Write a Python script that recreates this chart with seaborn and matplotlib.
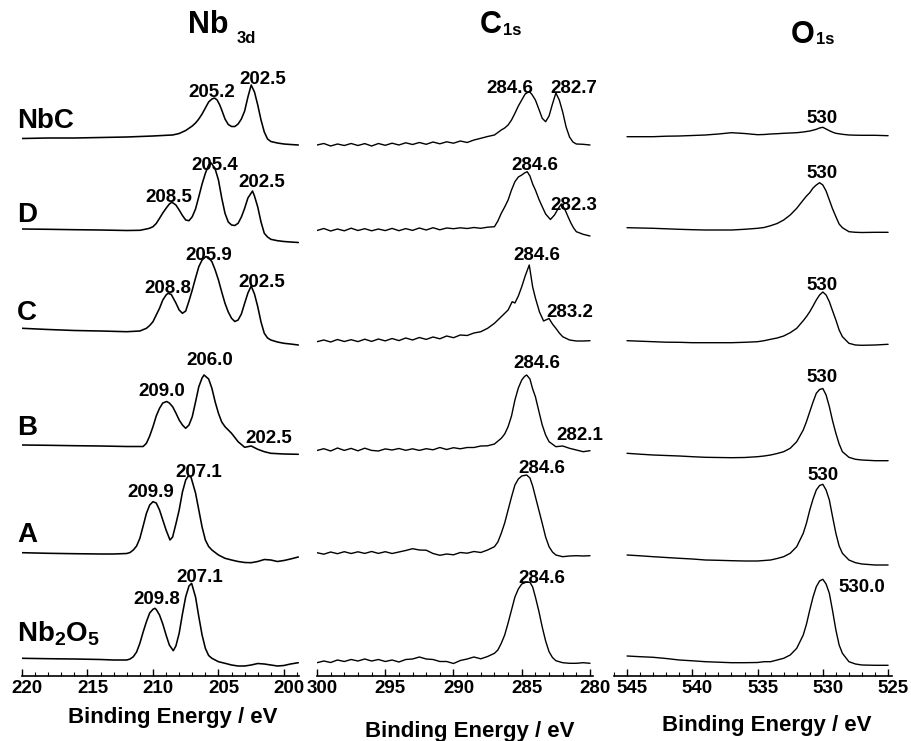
import numpy as np
import pandas as pd
import matplotlib
matplotlib.use("Agg")
import matplotlib.pyplot as plt
import matplotlib.transforms as mtrans
from matplotlib.ticker import MultipleLocator
import seaborn as sns

# ---------------- data ----------------
samples = ["NbC", "D", "C", "B", "A", "Nb2O5"]

# ---- Nb 3d panel (binding energy / eV, intensity in arbitrary units) ----
nb_E_NbC = [220, 218, 216, 214, 212, 211, 210, 209, 208.5, 208, 207.5, 207, 206.75, 206.5,
            206.25, 206, 205.75, 205.5, 205.3, 205.1, 204.9, 204.75, 204.5, 204.25, 204,
            203.75, 203.5, 203.25, 203, 202.75, 202.5, 202.25, 202, 201.75, 201.5, 201.25,
            201, 200.5, 200, 199.5, 198.9]
nb_I_NbC = [1.5, 2, 2, 2.5, 3, 3.5, 4, 4.7, 5, 6.5, 9.5, 14, 17, 21, 26, 32, 38, 41, 42, 40,
            35, 30, 21, 15.5, 13.5, 13.5, 16, 21, 29, 43, 55, 48, 35, 20, 8, 1, -1.5, -3, -4,
            -4.5, -5]
nb_E_D = [220, 218, 216, 214, 212, 211, 210.5, 210.25, 210, 209.75, 209.5, 209.25, 209,
          208.75, 208.55, 208.25, 208, 207.75, 207.5, 207.25, 207, 206.75, 206.5, 206.25,
          206, 205.75, 205.55, 205.25, 205, 204.75, 204.5, 204.25, 204, 203.75, 203.5,
          203.25, 203, 202.75, 202.4, 202.25, 202, 201.75, 201.5, 201.25, 201, 200.5, 200,
          199.5, 198.9]
nb_I_D = [0, -0.3, -0.7, -1, -1.5, -1.3, 0, 0.8, 2.3, 5.5, 10.7, 16, 20.7, 25, 26.8, 24, 19,
          13.5, 9, 8.3, 12.3, 20, 32.3, 45, 55.7, 64, 66, 60, 49, 31, 15.7, 7, 4, 3.5, 5.7,
          12, 20.7, 31, 38, 33, 22, 7, -4.3, -8, -10.3, -11.7, -12.5, -13, -13.5]
nb_E_C = [220, 218, 216, 214, 212, 211, 210.5, 210.25, 210, 209.75, 209.5, 209.25, 209,
          208.85, 208.6, 208.25, 208, 207.75, 207.5, 207.25, 207, 206.75, 206.5, 206.25,
          205.95, 205.75, 205.5, 205.25, 205, 204.75, 204.5, 204.25, 204, 203.75, 203.5,
          203.25, 203, 202.75, 202.5, 202.25, 202, 201.75, 201.5, 201.25, 201, 200.5, 200,
          199.5, 198.9]
nb_I_C = [7.7, 6.5, 5.5, 5, 4.3, 5, 7.7, 10.5, 14.3, 21, 27.7, 36, 41, 42.7, 41.5, 33, 26,
          22.7, 25, 35, 46, 58, 69.3, 76, 79.5, 78.5, 74.3, 66, 56, 44, 32.7, 24, 17.7, 14.5,
          16, 22, 32.7, 43, 50, 42, 29.3, 14, 2.7, -2, -4, -6, -7.3, -8, -9]
nb_E_B = [220, 218, 216, 214, 212, 211, 210.75, 210.5, 210.25, 210, 209.75, 209.5, 209.25,
          208.95, 208.75, 208.5, 208.25, 208, 207.75, 207.5, 207.25, 207, 206.75, 206.5,
          206.25, 206.1, 205.75, 205.5, 205.25, 205, 204.75, 204.5, 204, 203.5, 203, 202.5,
          202, 201.5, 201, 200, 198.9]
nb_I_B = [4, 3.7, 3.3, 3, 2.5, 2.5, 2.5, 5.7, 13, 22.3, 33, 40.7, 46, 47.5, 46, 42.3, 36, 29,
          24, 20.7, 24, 32.3, 47, 62.3, 71, 74, 70, 60.7, 47, 35.7, 27, 22.3, 15.7, 7.3, 1.7,
          3, -0.3, -2.7, -4.3, -5, -5.3]
nb_E_A = [220, 218, 216, 214, 213, 212, 211.75, 211.5, 211.25, 211, 210.75, 210.5, 210.25,
          210, 209.75, 209.5, 209.25, 209, 208.7, 208.5, 208.25, 208, 207.75, 207.5, 207.3,
          207.1, 206.75, 206.5, 206.25, 206, 205.75, 205.5, 205, 204.5, 204, 203.5, 203,
          202.5, 202, 201.5, 201, 200.5, 200, 199.5, 198.9]
nb_I_A = [1.3, 0.7, 0.3, 0, 0, 0.5, 1.5, 4, 8, 15.7, 28, 40.7, 49, 52.3, 51, 44, 34, 24, 14,
          17, 30, 44, 62, 74, 78, 77, 61, 44, 27, 14, 7.5, 4, -1, -4.3, -6, -7.5, -8.5, -8.7,
          -7.5, -5.5, -6, -7.5, -6.5, -5, -3]
nb_E_Nb2O5 = [220, 218, 216, 214, 213, 212, 211.75, 211.5, 211.25, 211, 210.75, 210.5,
              210.25, 210, 209.85, 209.75, 209.5, 209.25, 209, 208.75, 208.45, 208.25, 208,
              207.75, 207.5, 207.25, 207.05, 206.75, 206.5, 206.25, 206, 205.75, 205.5, 205,
              204.5, 204, 203.5, 203, 202.5, 202, 201.5, 201, 200.5, 200, 199.5, 198.9]
nb_I_Nb2O5 = [0.7, 0.3, 0, -0.5, -1, -1, 0, 2.3, 7, 15.7, 27, 37.3, 46, 49.7, 50.7, 49.5,
              44, 35, 24, 14, 8.3, 13, 25.7, 45, 62.3, 73, 75.7, 62, 42.3, 24, 10.7, 3.5,
              0.7, -2.7, -4.3, -6, -7, -7, -6, -4.5, -5, -6, -7, -6.5, -5, -3.7]

# ---- C 1s panel: flat (noisy) region sampled every 0.5 eV, peak region more finely ----
c_E_flat = [300, 299.5, 299, 298.5, 298, 297.5, 297, 296.5, 296, 295.5, 295, 294.5, 294,
            293.5, 293, 292.5, 292, 291.5, 291, 290.5, 290, 289.5, 289, 288.5, 288, 287.5]
c_I_flat_NbC = [-5, -3.5, -6, -4, -5.5, -3.5, -5.5, -3.6, -6, -3.5, -5.3, -3.2, -5, -2.8,
                -4.5, -2.5, -4.3, -2, -3.8, -1.8, -3.2, -1, -2.5, 0, 1.7, 3.5]
c_I_flat_D = [-1.5, 0.5, -2, 0, -1.8, 0.8, -1.5, 0.3, -1.8, 0, -1.6, 0.6, -1.7, 0.4, -1.4,
              1, -1, 1.3, -0.8, 1, 0.3, 1.2, 0.5, 1.5, 0.7, 1.8]
c_I_flat_C = [-5.7, -4, -6, -3.5, -5.5, -3.7, -5.6, -3.2, -5.4, -3, -4.9, -2.5, -4.6, -2,
              -4, -1.5, -3.4, -1, -2.8, 0, -1.7, 1, 0.5, 3, 4.3, 7.7]
c_I_flat_B = [-1.5, 0.3, -2, 1, -1.4, 0.6, -1.8, 0.8, -1.4, -2, 0.1, -1, 0.5, -1.3, 0.2,
              -1.4, 0.3, -0.8, 1.5, -0.5, 1.3, 0.2, 1.5, 1.5, 3, 3.2]
c_I_flat_A = [1.3, -0.2, 2, 0.3, 2.3, 0.5, 2.2, 0.6, 2.5, 0.6, 2.3, 0.5, 2, 3.5, 5.3, 4, 3.8,
              0.5, -1.3, 0, -0.8, 1.5, 0.8, 2.5, 1.5, 4]
c_I_flat_Nb2O5 = [-3.7, -2, -3.5, -1, -2.5, -0.5, -2, 0, -2, -0.5, -2.5, -1, -3, -0.5, 0,
                  2, 0, -0.5, -2.5, -2.5, -4.5, -1.5, 0, 2, 0.2, 2.5]

c_E_pk_NbC = [287, 286.5, 286.25, 286, 285.75, 285.5, 285.25, 285, 284.75, 284.45, 284.25,
              284, 283.75, 283.5, 283.25, 283, 282.75, 282.5, 282.25, 282, 281.75, 281.5,
              281.25, 281, 280.5, 280]
c_I_pk_NbC = [5, 10, 12, 15, 20, 26.7, 34, 40, 46, 48.5, 45.5, 40, 31, 21.7, 18.3, 24, 36,
              47, 40, 28, 13, 3, -2, -4, -4.3, -5]
c_E_pk_D = [287, 286.75, 286.5, 286.25, 286, 285.75, 285.5, 285.25, 285, 284.8, 284.6,
            284.4, 284.2, 284, 283.75, 283.5, 283.25, 282.9, 282.6, 282.35, 282.1, 281.85,
            281.6, 281.4, 281.2, 281, 280.5, 280]
c_I_pk_D = [2.3, 8, 15.7, 22, 29, 39, 47.3, 52, 54, 56, 57.3, 53, 45, 39, 30, 22.3, 15, 9.5,
            14, 20, 25, 20, 12, 6, 1, -2.7, -5.3, -7]
c_E_pk_C = [287, 286.5, 286, 285.7, 285.5, 285.25, 285, 284.75, 284.45, 284.2, 284, 283.7,
            283.4, 283, 282.75, 282.5, 282.25, 282, 281.5, 281, 280.5, 280]
c_I_pk_C = [12.7, 19.3, 26, 34.3, 33, 40, 49.3, 60, 71, 49, 38, 24, 15, 17.5, 12, 7.7, 3,
            -0.7, -4, -5, -5, -4.7]
c_E_pk_B = [287, 286.5, 286.25, 286, 285.75, 285.5, 285.25, 285, 284.8, 284.64, 284.4,
            284.2, 284, 283.75, 283.5, 283.25, 283, 282.5, 282, 281.5, 281, 280.5, 280]
c_I_pk_B = [5, 10.7, 15, 22.3, 33, 49, 61, 69, 72.5, 74, 70, 60, 52.3, 38, 24, 14, 7.3, 2.3,
            3, 0.7, -1, -2.7, -1.7]
c_E_pk_A = [287, 286.75, 286.5, 286.25, 286, 285.75, 285.5, 285.25, 285, 284.64, 284.4,
            284.2, 284, 283.75, 283.5, 283.25, 283, 282.75, 282.5, 282, 281.5, 281, 280.5,
            280]
c_I_pk_A = [7.3, 12, 20.7, 31, 44, 57, 69, 75, 78, 79, 76, 68, 57.3, 44, 30.7, 17, 7.3, 2,
            -1, -2.7, -2, -1.7, -2, -1.7]
c_E_pk_Nb2O5 = [287, 286.75, 286.5, 286.25, 286, 285.75, 285.5, 285.25, 285, 284.7, 284.4,
                284.2, 284, 283.75, 283.5, 283.25, 283, 282.75, 282.5, 282, 281.5, 281,
                280.5, 280]
c_I_pk_Nb2O5 = [5.7, 9, 15.7, 24, 36, 49, 62, 70, 75, 76.7, 76.7, 72, 62, 48, 32, 18, 7.3,
                1.5, -1.7, -3.7, -4.3, -4.3, -3.7, -4.3]

# ---- O 1s panel ----
o_energy = [545, 544, 543, 542, 541, 540, 539, 538, 537, 536, 535, 534.5, 534, 533.5, 533,
            532.5, 532, 531.5, 531.25, 531, 530.75, 530.5, 530.25, 530, 529.75, 529.5,
            529.25, 529, 528.75, 528.5, 528, 527.5, 527, 526, 525]
o_NbC = [3.3, 3.3, 3.3, 3.8, 4, 4.5, 5, 6, 7.3, 6.5, 5.3, 5.5, 6, 6.3, 6.7, 7, 7.3, 8, 8.5,
         9, 9.8, 10.7, 12, 12.7, 11, 9.3, 7.8, 6.7, 6.2, 5.7, 5, 4.8, 4.7, 4.7, 4.3]
o_D = [1.3, 1, 0.7, 0.2, -0.3, -0.7, -1, -1, -1, -0.3, 0.7, 1.5, 3.3, 5.5, 9, 14, 20.7, 29,
       33, 36.3, 41, 44, 46.3, 44, 38, 29, 20, 12.3, 5, 1.3, -2.7, -3.3, -3.5, -3.3, -3.3]
o_C = [-4.7, -5.2, -5.7, -6.2, -6.3, -6.7, -6.7, -6.7, -6.7, -6.3, -5.7, -4.7, -3.3, -2, 0,
       3.3, 7.7, 15.3, 19.5, 24.3, 30, 36, 41, 44, 41, 34.3, 25, 16, 6, -0.7, -7.3, -9,
       -9.3, -9, -8.3]
o_B = [-4.3, -5.2, -6, -6.5, -7, -7.7, -8.3, -8.5, -8.7, -8.5, -7.7, -7, -6, -4.5, -2.7, 0.7,
       7.3, 19, 27.5, 37.3, 47, 55.7, 59.5, 60.5, 54, 42.3, 28, 15.7, 5, -2.7, -8.3, -10.3,
       -11, -11.7, -11.7]
o_A = [-1, -1.8, -2.7, -3.5, -4.3, -5, -6, -6.3, -6.7, -7, -7, -6.5, -6, -4.5, -2.7, 0.7, 7.3,
       20.7, 31, 44, 55, 64, 68.5, 69.7, 64, 54, 37, 20.7, 8, 0.7, -6, -8.7, -10, -11, -11]
o_Nb2O5 = [3, 2.3, 1.7, 0.5, -1, -1.8, -2.7, -3.2, -3.7, -3.7, -3.5, -2.7, -2.7, -1, 0.7, 4,
           10.7, 24, 35, 49, 62, 72.3, 78, 79.7, 75, 65.7, 48, 29, 14, 5.7, -2.7, -5, -6,
           -6.3, -6.3]

nb_ticks = [220, 215, 210, 205, 200]
c_ticks = [300, 295, 290, 285, 280]
o_ticks = [545, 540, 535, 530, 525]

nb_peak_labels = ["205.2", "202.5", "208.5", "205.4", "202.5", "208.8", "205.9", "202.5",
                  "209.0", "206.0", "202.5", "209.9", "207.1", "209.8", "207.1"]
c_peak_labels = ["284.6", "282.7", "284.6", "282.3", "284.6", "283.2", "284.6", "282.1",
                 "284.6", "284.6"]
o_peak_labels = ["530", "530", "530", "530", "530", "530.0"]
xlabel_text = "Binding Energy / eV"

# ---------------- layout (pixels) ----------------
W, H = 912, 741
spine_px = 676
row_base_px = [140, 229, 336, 449, 554, 659]

nb_label_pos = [(212, 97), (263, 84), (169, 202), (215, 170), (262, 187), (168, 293),
                (209, 260), (262, 287), (162, 396), (210, 365), (269, 443), (151, 497),
                (199, 477), (157, 604), (200, 582)]
c_label_pos = [(510, 93), (574, 93), (535, 170), (574, 210), (537, 260), (570, 317),
               (537, 368), (580, 440), (542, 473), (542, 583)]
o_label_pos = [(822, 123), (822, 178), (822, 290), (822, 382), (823, 480), (862, 592)]

sns.set_theme(style="ticks")
plt.rcParams["font.family"] = ["Liberation Sans", "DejaVu Sans"]
plt.rcParams["font.weight"] = "bold"
plt.rcParams["text.color"] = "black"
plt.rcParams["xtick.color"] = "black"
plt.rcParams["xtick.labelcolor"] = "black"
plt.rcParams["mathtext.fontset"] = "custom"
plt.rcParams["mathtext.rm"] = "Liberation Sans:bold"
plt.rcParams["mathtext.bf"] = "Liberation Sans:bold"
plt.rcParams["mathtext.it"] = "Liberation Sans:bold"

fig = plt.figure(figsize=(W / 100, H / 100), dpi=100)
fig.patch.set_facecolor("white")


def ftext(px, py, s, **kw):
    return fig.text(px / W, 1 - py / H, s, color="black", **kw)


nb_series = [(nb_E_NbC, nb_I_NbC), (nb_E_D, nb_I_D), (nb_E_C, nb_I_C), (nb_E_B, nb_I_B),
             (nb_E_A, nb_I_A), (nb_E_Nb2O5, nb_I_Nb2O5)]
c_series = [(c_E_flat + c_E_pk_NbC, c_I_flat_NbC + c_I_pk_NbC),
            (c_E_flat + c_E_pk_D, c_I_flat_D + c_I_pk_D),
            (c_E_flat + c_E_pk_C, c_I_flat_C + c_I_pk_C),
            (c_E_flat + c_E_pk_B, c_I_flat_B + c_I_pk_B),
            (c_E_flat + c_E_pk_A, c_I_flat_A + c_I_pk_A),
            (c_E_flat + c_E_pk_Nb2O5, c_I_flat_Nb2O5 + c_I_pk_Nb2O5)]
o_series = [(o_energy, v) for v in [o_NbC, o_D, o_C, o_B, o_A, o_Nb2O5]]

panels = [
    dict(series=nb_series, xpx=(22, 299), xlim=(220, 198.85), ticks=nb_ticks,
         labels=nb_peak_labels, lpos=nb_label_pos, xlab=(173, 723), lw=1.15),
    dict(series=c_series, xpx=(317, 593), xlim=(300, 279.78), ticks=c_ticks,
         labels=c_peak_labels, lpos=c_label_pos, xlab=(470, 737), lw=1.0),
    dict(series=o_series, xpx=(614, 892), xlim=(546.0, 524.7), ticks=o_ticks,
         labels=o_peak_labels, lpos=o_label_pos, xlab=(767, 731), lw=1.0),
]

shift = mtrans.ScaledTranslation(5 / 100, 0, fig.dpi_scale_trans)

for p in panels:
    x0, x1 = p["xpx"]
    ax = fig.add_axes([x0 / W, (H - spine_px) / H, (x1 - x0) / W, spine_px / H])
    ax.set_facecolor("none")
    for name, (E, I), base in zip(samples, p["series"], row_base_px):
        off = spine_px - base
        df = pd.DataFrame({"E": E, "I": np.asarray(I, float) + off, "sample": name})
        sns.lineplot(data=df, x="E", y="I", ax=ax, color="black", linewidth=p["lw"],
                     estimator=None, sort=False, legend=False)
    ax.set_xlim(*p["xlim"])
    ax.set_ylim(0, spine_px)
    ax.set_yticks([])
    ax.set_xlabel("")
    ax.set_ylabel("")
    for s in ["left", "top", "right"]:
        ax.spines[s].set_visible(False)
    ax.spines["bottom"].set_color("black")
    ax.spines["bottom"].set_linewidth(1.2)
    ax.set_xticks(p["ticks"])
    ax.set_xticklabels([str(t) for t in p["ticks"]])
    ax.xaxis.set_minor_locator(MultipleLocator(1))
    ax.tick_params(axis="x", which="major", direction="in", length=5, width=1,
                   color="black", labelsize=13.5, pad=3, labelcolor="black")
    ax.tick_params(axis="x", which="minor", direction="in", length=3, width=0.8,
                   color="black")
    for lbl in ax.get_xticklabels():
        lbl.set_fontweight("bold")
        lbl.set_transform(lbl.get_transform() + shift)
    for txt, (px, py) in zip(p["labels"], p["lpos"]):
        ftext(px, py, txt, ha="center", va="baseline", fontsize=13.5, fontweight="bold")
    ftext(p["xlab"][0], p["xlab"][1], xlabel_text, ha="center", va="baseline",
          fontsize=16, fontweight="bold")

# panel titles
ftext(188, 33, "Nb", ha="left", va="baseline", fontsize=22, fontweight="bold")
ftext(237, 43, "3d", ha="left", va="baseline", fontsize=12, fontweight="bold")
ftext(480, 33, "C", ha="left", va="baseline", fontsize=22, fontweight="bold")
ftext(503, 35, "1s", ha="left", va="baseline", fontsize=12, fontweight="bold")
ftext(791, 43, "O", ha="left", va="baseline", fontsize=22, fontweight="bold")
ftext(816, 44, "1s", ha="left", va="baseline", fontsize=12, fontweight="bold")

# sample labels
sample_text = ["NbC", "D", "C", "B", "A", r"Nb$_{2}$O$_{5}$"]
sample_baseline = [128, 222, 320, 435, 542, 642]
for t, yb in zip(sample_text, sample_baseline):
    ftext(17, yb, t, ha="left", va="baseline", fontsize=20, fontweight="bold")

fig.savefig("out.png", dpi=100)
